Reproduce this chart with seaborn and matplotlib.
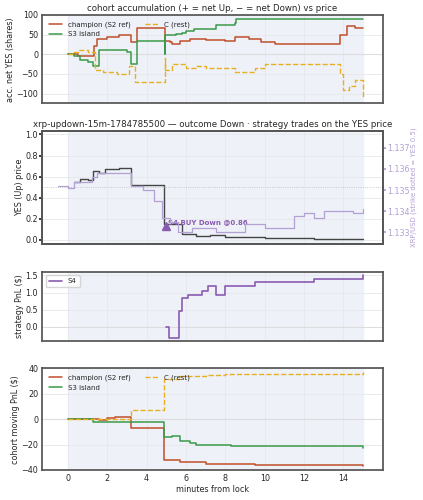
import numpy as np
import pandas as pd
import seaborn as sns
import matplotlib.pyplot as plt

# accumulation (shares)
champ_acc_t = [0, 0.5, 1.3, 1.35, 1.5, 2.0, 2.6, 3.2, 3.5, 4.9, 4.92, 5.2, 5.3, 5.7, 6.2, 6.5, 7.0, 8.0, 8.5, 9.2, 9.8, 10.5, 13.8, 13.85, 14.2, 14.6, 15]
champ_acc_v = [0, -5, -5, 20, 40, 45, 50, 30, 68, 68, 35, 30, 25, 35, 38, 40, 37, 35, 45, 40, 30, 25, 25, 50, 73, 67, 67]
s3_acc_t = [0, 0.3, 0.6, 1.0, 1.3, 1.6, 2.0, 3.0, 3.2, 3.5, 4.9, 4.92, 4.95, 5.5, 5.8, 6.0, 6.4, 7.5, 8.5, 8.55, 15]
s3_acc_v = [0, -5, -15, -20, -30, 10, 10, 5, -25, 35, 35, 0, 50, 52, 55, 60, 65, 75, 80, 90, 90]
c_acc_t = [0, 0.2, 0.5, 1.0, 1.4, 1.8, 2.5, 3.1, 3.4, 4.9, 4.92, 4.95, 5.3, 6.0, 6.5, 7.0, 8.5, 9.5, 10.0, 13.7, 13.8, 14.0, 14.3, 14.6, 15]
c_acc_v = [0, 5, 10, 5, -40, -45, -50, -30, -70, -70, -10, -40, -25, -35, -30, -35, -45, -35, -25, -25, -50, -90, -80, -65, -110]

# price panel
yes_t = [0.3, 0.6, 1.0, 1.3, 1.6, 1.9, 2.6, 3.2, 4.9, 5.8, 6.5, 7.2, 8.0, 10.0, 12.5, 15]
yes_v = [0.55, 0.58, 0.57, 0.65, 0.63, 0.67, 0.68, 0.52, 0.15, 0.06, 0.04, 0.05, 0.03, 0.02, 0.01, 0.005]
xrp_t = [-0.5, 0.0, 0.3, 0.7, 1.2, 1.5, 3.0, 3.2, 3.8, 4.4, 4.8, 5.2, 5.6, 6.3, 7.5, 9.0, 10.0, 11.5, 12.0, 12.5, 13.0, 14.5, 15.0]
xrp_v = [1.1352, 1.1351, 1.1354, 1.1354, 1.1356, 1.1358, 1.1358, 1.1352, 1.1350, 1.1345, 1.1337, 1.1335, 1.1330, 1.1332, 1.1330, 1.1334, 1.1332, 1.1338, 1.1339, 1.1337, 1.1340, 1.1339, 1.1341]
trade_t, trade_p = 5.0, 0.13

# strategy pnl
s4_t = [5.0, 5.15, 5.65, 5.8, 6.1, 6.4, 6.8, 7.1, 7.5, 8.0, 9.5, 12.5, 15]
s4_v = [0, -0.33, 0.47, 0.83, 0.93, 0.93, 1.05, 1.18, 0.93, 1.18, 1.30, 1.38, 1.52]

# cohort moving pnl
champ_pnl_t = [0, 1.6, 2.0, 2.4, 3.2, 4.9, 5.7, 7.0, 9.5, 15]
champ_pnl_v = [0, -1, 1, 1.5, -7, -32, -34, -35, -36, -37]
s3_pnl_t = [0, 1.3, 3.2, 4.9, 5.3, 5.7, 6.2, 6.5, 8.3, 15]
s3_pnl_v = [0, -2, -2, -14, -13, -17, -19, -20, -21, -23]
c_pnl_t = [0, 3.2, 4.9, 5.7, 7.0, 8.0, 12.0, 15]
c_pnl_v = [0, 7, 32, 34, 35, 35.5, 36, 37]

RED, GREEN, GOLD, PURPLE, LAV = "#c0502a", "#3a9a4a", "#e8b020", "#8a5cb0", "#b3a0d4"

sns.set_theme(style="whitegrid")
plt.rcParams.update({"font.size": 5.5, "axes.titlesize": 6.2, "axes.labelsize": 5.8,
                     "xtick.labelsize": 5.8, "ytick.labelsize": 5.8, "legend.fontsize": 5,
                     "grid.color": "#e8e8ec", "grid.linewidth": 0.6, "axes.edgecolor": "#555555"})
plt.rcParams['font.family'] = ['DejaVu Sans']

fig, axes = plt.subplots(4, 1, figsize=(4.23, 5.0), dpi=100, sharex=True,
                         gridspec_kw={"height_ratios": [94, 120, 73, 108]})


def steps(ax, t, v, **kw):
    df = pd.DataFrame({"t": t, "v": v})
    sns.lineplot(data=df, x="t", y="v", ax=ax, drawstyle="steps-post", **kw)


for ax in axes:
    ax.axvspan(0, 15, color="#eef1f8", zorder=0)
    ax.tick_params(length=2, pad=1)

ax = axes[0]
steps(ax, champ_acc_t, champ_acc_v, color=RED, lw=1.1, label="champion (S2 ref)")
steps(ax, s3_acc_t, s3_acc_v, color=GREEN, lw=1.1, label="S3 island")
steps(ax, c_acc_t, c_acc_v, color=GOLD, lw=1.0, ls="--", label="C (rest)")
ax.axhline(0, color="#dddddd", lw=0.8, zorder=1)
ax.set_ylim(-125, 100)
ax.set_ylabel("acc. net YES (shares)", labelpad=1)
ax.set_title("cohort accumulation (+ = net Up, − = net Down) vs price", pad=3)
ax.legend(loc="upper left", ncol=2, frameon=False, handlelength=2)

ax = axes[1]
steps(ax, yes_t, yes_v, color="#444444", lw=1.0)
ax.axhline(0.5, color="#bbbbbb", lw=0.6, ls=":")
ax.plot([trade_t], [trade_p], marker="^", color=PURPLE, ms=6, ls="none")
ax.text(trade_t + 0.1, trade_p + 0.02, "S4 BUY Down @0.86", color=PURPLE, fontsize=5, fontweight="bold")
ax.set_ylim(-0.04, 1.03)
ax.set_ylabel("YES (Up) price", labelpad=1)
ax.set_title("xrp-updown-15m-1784785500 — outcome Down · strategy trades on the YES price", pad=3)
ax2 = ax.twinx()
steps(ax2, xrp_t, xrp_v, color=LAV, lw=0.9)
ax2.set_ylim(1.13245, 1.13778)
ax2.grid(False)
ax2.set_ylabel("XRP/USD (strike dotted = YES 0.5)", color=LAV, fontsize=5, labelpad=1)
ax2.tick_params(colors=LAV, length=2, pad=1)
ax2.set_yticks([1.133, 1.134, 1.135, 1.136, 1.137])

ax = axes[2]
steps(ax, s4_t, s4_v, color=PURPLE, lw=1.2, label="S4")
ax.axhline(0, color="#dddddd", lw=0.8, zorder=1)
ax.set_ylim(-0.4, 1.6)
ax.set_yticks([0.0, 0.5, 1.0, 1.5])
ax.set_ylabel("strategy PnL ($)", labelpad=1)
ax.legend(loc="upper left", frameon=True, handlelength=2)

ax = axes[3]
steps(ax, champ_pnl_t, champ_pnl_v, color=RED, lw=1.1, label="champion (S2 ref)")
steps(ax, s3_pnl_t, s3_pnl_v, color=GREEN, lw=1.1, label="S3 island")
steps(ax, c_pnl_t, c_pnl_v, color=GOLD, lw=1.0, ls="--", label="C (rest)")
ax.axhline(0, color="#dddddd", lw=0.8, zorder=1)
ax.set_ylim(-40, 40)
ax.set_yticks([-40, -20, 0, 20, 40])
ax.set_ylabel("cohort moving PnL ($)", labelpad=1)
ax.set_xlabel("minutes from lock", labelpad=1)
ax.legend(loc="upper left", ncol=2, frameon=False, handlelength=2)
ax.set_xlim(-1.3, 16.0)
ax.set_xticks([0, 2, 4, 6, 8, 10, 12, 14])

fig.subplots_adjust(left=0.1, right=0.905, top=0.97, bottom=0.06, hspace=0.3)
fig.savefig("out.png", dpi=100)
